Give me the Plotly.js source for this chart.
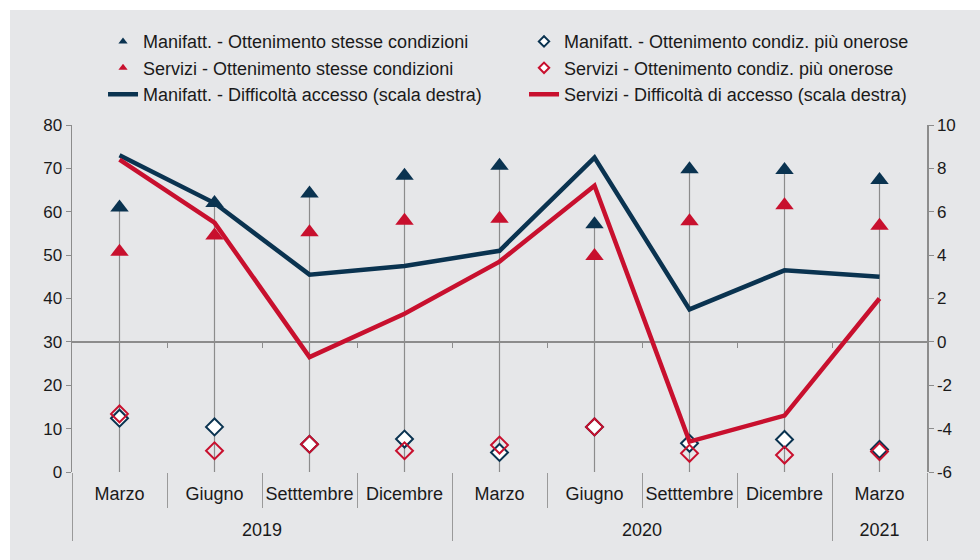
<!DOCTYPE html>
<html>
<head>
<meta charset="utf-8">
<script src="https://cdn.plot.ly/plotly-3.0.1.min.js"></script>
<style>
  html, body { margin: 0; padding: 0; background: #ffffff; }
  #chart { position: absolute; left: 10px; top: 10px; width: 970px; height: 550px; }
</style>
</head>
<body>
<div id="chart"></div>
<script>
// ---- data ----
const years  = ['2019','2019','2019','2019','2020','2020','2020','2020','2021'];
const months = ['Marzo','Giugno','Setttembre','Dicembre','Marzo','Giugno','Setttembre','Dicembre','Marzo'];

const manStesse   = [61.0, 62.0, 64.2, 68.3, 70.6, 57.1, 69.8, 69.6, 67.3];
const servStesse  = [50.8, 54.5, 55.3, 57.9, 58.4, 49.8, 57.8, 61.5, 56.8];
const manOnerose  = [12.4, 10.4, 6.4, 7.6, 4.5, 10.4, 6.6, 7.5, 5.2];
const servOnerose = [13.4, 4.9, 6.4, 4.9, 6.2, 10.4, 4.3, 3.9, 4.7];
const manDiff     = [8.6, 6.4, 3.1, 3.5, 4.2, 8.5, 1.5, 3.3, 3.0];
const servDiff    = [8.4, 5.5, -0.7, 1.3, 3.7, 7.2, -4.6, -3.4, 2.0];

const names = [
  'Manifatt. - Ottenimento stesse condizioni',
  'Manifatt. - Ottenimento condiz. più onerose',
  'Servizi - Ottenimento stesse condizioni',
  'Servizi - Ottenimento condiz. più onerose',
  'Manifatt. - Difficoltà accesso (scala destra)',
  'Servizi - Difficoltà di accesso (scala destra)'
];

const yLeftRange  = [0, 80];
const yRightRange = [-6, 10];
const yRightStep  = 2;

// ---- styles ----
const NAVY = '#0a3350';
const RED  = '#c8102e';
const GREY = '#8c8c8c';
const BG   = '#e6e7e9';
const FONT = 'Liberation Sans, Arial, sans-serif';
const TXT  = '#1a1a1a';

// month labels get an empty second line so the year row sits lower (as in the reference)
const x = [years, months.map(m => m + '<br> ')];
const xRange = [-0.5, months.length - 0.5];
const dropTop = manStesse.map((v, i) => Math.max(v, servStesse[i], manOnerose[i], servOnerose[i]));

const traces = [];
// drop lines from 0 to highest point
traces.push({
  type: 'scatter', mode: 'markers', x: x, y: dropTop,
  marker: {size: 1, color: 'rgba(0,0,0,0)'},
  error_y: {type: 'data', symmetric: false, array: dropTop.map(() => 0), arrayminus: dropTop,
            color: GREY, thickness: 1.2, width: 0},
  showlegend: false, hoverinfo: 'skip'
});
// markers
traces.push({type: 'scatter', mode: 'markers', x: x, y: manStesse, name: names[0], showlegend: false,
  marker: {symbol: 'triangle-up', size: 16, color: NAVY}});
traces.push({type: 'scatter', mode: 'markers', x: x, y: servStesse, name: names[2], showlegend: false,
  marker: {symbol: 'triangle-up', size: 16, color: RED}});
traces.push({type: 'scatter', mode: 'markers', x: x, y: manOnerose, name: names[1], showlegend: false,
  marker: {symbol: 'diamond', size: 13, color: '#ffffff', line: {color: NAVY, width: 2}}});
traces.push({type: 'scatter', mode: 'markers', x: x, y: servOnerose, name: names[3], showlegend: false,
  marker: {symbol: 'diamond-open', size: 13, color: RED, line: {color: RED, width: 2}}});
// lines on right axis
traces.push({type: 'scatter', mode: 'lines', x: x, y: manDiff, yaxis: 'y2', name: names[4], showlegend: false,
  line: {color: NAVY, width: 4.5}});
traces.push({type: 'scatter', mode: 'lines', x: x, y: servDiff, yaxis: 'y2', name: names[5], showlegend: false,
  line: {color: RED, width: 4.5}});

// legend-only entries (small symbols as in reference)
const legendSpec = [
  {mode: 'markers', marker: {symbol: 'triangle-up', size: 8, color: NAVY}},
  {mode: 'markers', marker: {symbol: 'diamond', size: 8, color: '#ffffff', line: {color: NAVY, width: 2}}},
  {mode: 'markers', marker: {symbol: 'triangle-up', size: 8, color: RED}},
  {mode: 'markers', marker: {symbol: 'diamond', size: 8, color: '#ffffff', line: {color: RED, width: 2}}},
  {mode: 'lines', line: {color: NAVY, width: 4.5}},
  {mode: 'lines', line: {color: RED, width: 4.5}}
];
legendSpec.forEach((s, i) => {
  traces.push(Object.assign({type: 'scatter', x: [null], y: [null], name: names[i], showlegend: true,
    hoverinfo: 'skip', xaxis: 'x2', yaxis: 'y'}, s));
});

// boundary ticks on the zero line (right scale)
const boundaries = months.slice(1).map((_, i) => i + 0.5);
const zeroPos = (0 - yRightRange[0]) / (yRightRange[1] - yRightRange[0]);
const y2vals = [];
for (let v = yRightRange[0]; v <= yRightRange[1]; v += yRightStep) y2vals.push(v);

const layout = {
  width: 970, height: 550,
  margin: {l: 62, r: 53, t: 115, b: 88},
  paper_bgcolor: BG, plot_bgcolor: BG,
  font: {family: FONT, size: 17, color: TXT},
  showlegend: true,
  legend: {
    orientation: 'h', xref: 'container', yref: 'container',
    x: 0.0959, y: 0.976, xanchor: 'left', yanchor: 'top',
    entrywidth: 376, entrywidthmode: 'pixels',
    font: {family: FONT, size: 18, color: TXT},
    bgcolor: 'rgba(0,0,0,0)', traceorder: 'normal'
  },
  xaxis: {
    type: 'multicategory', range: xRange, autorange: false, automargin: false,
    showgrid: false, zeroline: false, showline: false,
    ticks: 'outside', tickson: 'boundaries', ticklen: 35, tickcolor: '#9a9a9a', tickwidth: 1,
    tickangle: 0, ticklabelstandoff: 9,
    showdividers: true, dividercolor: '#9a9a9a', dividerwidth: 1,
    tickfont: {family: FONT, size: 18, color: TXT}
  },
  xaxis2: {
    overlaying: 'x', anchor: 'free', position: zeroPos, automargin: false,
    range: xRange, showgrid: false, zeroline: false, showline: false,
    tickmode: 'array', tickvals: boundaries, ticks: 'outside', ticklen: 5, tickcolor: GREY,
    showticklabels: false, fixedrange: true
  },
  yaxis: {
    range: yLeftRange, dtick: 10, showgrid: false, zeroline: false, automargin: false,
    showline: true, linecolor: GREY, linewidth: 1.5,
    ticks: 'outside', ticklen: 5, tickcolor: GREY,
    tickfont: {family: FONT, size: 17, color: TXT}
  },
  yaxis2: {
    range: yRightRange, overlaying: 'y', side: 'right', showgrid: false, automargin: false,
    tickmode: 'array', tickvals: y2vals, ticktext: y2vals.map(v => String(v)),
    zeroline: true, zerolinecolor: GREY, zerolinewidth: 1.5,
    showline: true, linecolor: GREY, linewidth: 1.5,
    ticks: 'outside', ticklen: 5, tickcolor: GREY,
    tickfont: {family: FONT, size: 17, color: TXT}
  }
};

Plotly.newPlot('chart', traces, layout, {displayModeBar: false, staticPlot: true});
</script>
</body>
</html>
